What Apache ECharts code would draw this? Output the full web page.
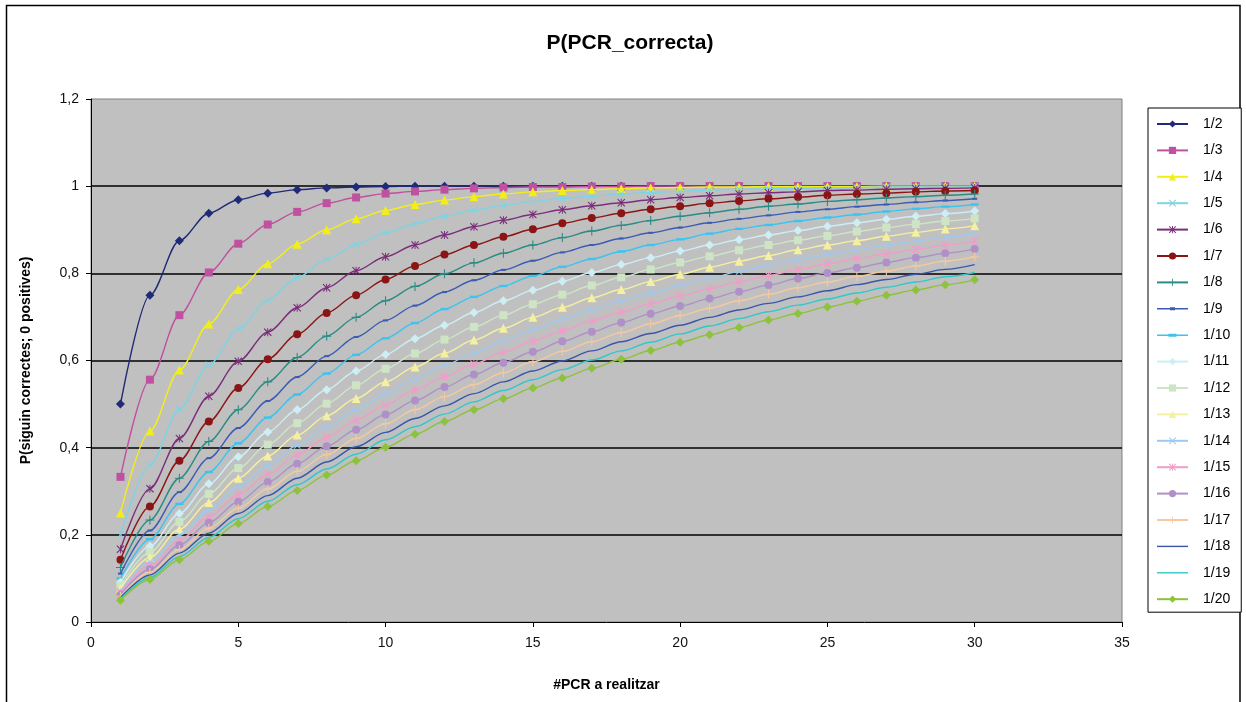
<!DOCTYPE html>
<html>
<head>
<meta charset="utf-8">
<script src="https://cdn.jsdelivr.net/npm/echarts@6/dist/echarts.min.js"></script>
<style>
html,body{margin:0;padding:0;background:#fff;}
#chart{width:1246px;height:702px;}
</style>
</head>
<body>
<div id="chart"></div>
<script>
// Number of PCRs (x values)
const nPCR = [1,2,3,4,5,6,7,8,9,10,11,12,13,14,15,16,17,18,19,20,21,22,23,24,25,26,27,28,29,30];
const seriesNames = ['1/2','1/3','1/4','1/5','1/6','1/7','1/8','1/9','1/10','1/11','1/12','1/13','1/14','1/15','1/16','1/17','1/18','1/19','1/20'];
const yTickLabels = ['0','0,2','0,4','0,6','0,8','1','1,2'];
const xTickLabels = ['0','5','10','15','20','25','30','35'];

const p2  = [0.5,0.75,0.875,0.938,0.969,0.984,0.992,0.996,0.998,0.999,1,1,1,1,1,1,1,1,1,1,1,1,1,1,1,1,1,1,1,1];
const p3  = [0.333,0.556,0.704,0.802,0.868,0.912,0.941,0.961,0.974,0.983,0.988,0.992,0.995,0.997,0.998,0.998,0.999,0.999,1,1,1,1,1,1,1,1,1,1,1,1];
const p4  = [0.25,0.438,0.578,0.684,0.763,0.822,0.867,0.900,0.925,0.944,0.958,0.968,0.976,0.982,0.987,0.990,0.992,0.994,0.996,0.997,0.998,0.998,0.999,0.999,0.999,0.999,1,1,1,1];
const p5  = [0.2,0.36,0.488,0.590,0.672,0.738,0.790,0.832,0.866,0.893,0.914,0.931,0.945,0.956,0.965,0.972,0.977,0.982,0.986,0.988,0.991,0.993,0.994,0.995,0.996,0.997,0.998,0.998,0.998,0.999];
const p6  = [0.167,0.306,0.421,0.518,0.598,0.665,0.721,0.767,0.806,0.838,0.865,0.888,0.907,0.922,0.935,0.946,0.955,0.962,0.969,0.974,0.978,0.982,0.985,0.987,0.990,0.991,0.993,0.994,0.995,0.996];
const p7  = [0.143,0.265,0.370,0.460,0.537,0.603,0.660,0.709,0.750,0.786,0.817,0.843,0.865,0.884,0.901,0.915,0.927,0.938,0.947,0.954,0.961,0.966,0.971,0.975,0.979,0.982,0.984,0.987,0.989,0.990];
const p8  = [0.125,0.234,0.330,0.414,0.487,0.551,0.607,0.656,0.699,0.737,0.770,0.799,0.824,0.846,0.865,0.882,0.897,0.910,0.921,0.931,0.939,0.947,0.954,0.959,0.965,0.969,0.973,0.976,0.979,0.982];
const p9  = [0.111,0.210,0.298,0.376,0.445,0.507,0.562,0.610,0.654,0.692,0.726,0.757,0.784,0.808,0.829,0.848,0.865,0.880,0.893,0.905,0.916,0.925,0.933,0.941,0.947,0.953,0.958,0.963,0.967,0.971];
const p10 = [0.1,0.19,0.271,0.344,0.410,0.469,0.522,0.570,0.613,0.651,0.686,0.718,0.746,0.771,0.794,0.815,0.833,0.850,0.865,0.878,0.891,0.902,0.911,0.920,0.928,0.935,0.942,0.948,0.953,0.958];
const p11 = [0.091,0.174,0.249,0.317,0.379,0.436,0.487,0.533,0.576,0.614,0.650,0.681,0.710,0.737,0.761,0.782,0.802,0.820,0.836,0.851,0.865,0.877,0.888,0.898,0.908,0.916,0.924,0.931,0.937,0.943];
const p12 = [0.083,0.160,0.230,0.294,0.353,0.407,0.456,0.501,0.543,0.581,0.616,0.648,0.677,0.704,0.729,0.751,0.772,0.791,0.809,0.825,0.839,0.853,0.865,0.876,0.886,0.896,0.905,0.913,0.920,0.926];
const p13 = [0.077,0.148,0.213,0.274,0.330,0.381,0.429,0.473,0.513,0.551,0.585,0.617,0.647,0.674,0.699,0.722,0.744,0.763,0.781,0.798,0.814,0.828,0.841,0.854,0.865,0.875,0.885,0.894,0.902,0.909];
const p14 = [0.071,0.138,0.199,0.257,0.310,0.359,0.405,0.447,0.487,0.523,0.557,0.589,0.618,0.646,0.671,0.694,0.716,0.737,0.755,0.773,0.789,0.804,0.818,0.831,0.843,0.854,0.865,0.874,0.883,0.892];
const p15 = [0.067,0.129,0.187,0.241,0.292,0.339,0.383,0.424,0.463,0.498,0.532,0.563,0.592,0.619,0.645,0.668,0.691,0.711,0.730,0.748,0.765,0.781,0.795,0.809,0.822,0.834,0.845,0.855,0.865,0.874];
const p16 = [0.0625,0.121,0.176,0.228,0.276,0.321,0.363,0.403,0.441,0.476,0.508,0.539,0.568,0.595,0.620,0.644,0.666,0.687,0.707,0.725,0.742,0.758,0.773,0.788,0.801,0.813,0.825,0.836,0.846,0.856];
const p17 = [0.059,0.114,0.166,0.215,0.261,0.305,0.346,0.384,0.421,0.455,0.487,0.517,0.545,0.572,0.597,0.621,0.643,0.664,0.684,0.703,0.720,0.737,0.752,0.767,0.780,0.793,0.805,0.817,0.828,0.838];
const p18 = [0.056,0.108,0.158,0.204,0.249,0.290,0.330,0.367,0.402,0.435,0.467,0.496,0.524,0.551,0.576,0.599,0.622,0.643,0.662,0.681,0.699,0.716,0.731,0.746,0.760,0.774,0.786,0.798,0.809,0.820];
const p19 = [0.053,0.102,0.150,0.194,0.237,0.277,0.315,0.351,0.385,0.418,0.448,0.477,0.505,0.531,0.556,0.579,0.601,0.622,0.642,0.661,0.679,0.696,0.712,0.727,0.741,0.755,0.768,0.780,0.792,0.802];
const p20 = [0.05,0.0975,0.143,0.185,0.226,0.265,0.302,0.337,0.370,0.401,0.431,0.460,0.487,0.512,0.537,0.560,0.582,0.603,0.623,0.642,0.659,0.676,0.693,0.708,0.723,0.736,0.750,0.762,0.774,0.785];

const allValues = [p2,p3,p4,p5,p6,p7,p8,p9,p10,p11,p12,p13,p14,p15,p16,p17,p18,p19,p20];

const colors = ['#1F2A78','#C050A0','#F2EE1A','#7CD4E4','#7B2D7B','#8B1515','#2A8C84','#3B5BB5','#3CC4F0','#CCEEF4','#CDE5C5','#F4F0A0','#A0C8F0','#F29CC8','#B090C8','#F4C8A0','#3A56A8','#30C8C8','#8DC23C'];

const X_PATH = 'path://M0,1 L1,0 L5,4 L9,0 L10,1 L6,5 L10,9 L9,10 L5,6 L1,10 L0,9 L4,5 Z';
const STAR_PATH = 'path://M0,1 L1,0 L5,4 L9,0 L10,1 L6,5 L10,9 L9,10 L5,6 L1,10 L0,9 L4,5 Z M4.4,0 L5.6,0 L5.6,10 L4.4,10 Z';
const PLUS_PATH = 'path://M4.4,0 L5.6,0 L5.6,4.4 L10,4.4 L10,5.6 L5.6,5.6 L5.6,10 L4.4,10 L4.4,5.6 L0,5.6 L0,4.4 L4.4,4.4 Z';
const DASH_PATH = 'path://M0,0 L10,0 L10,3 L0,3 Z';
const SDASH_PATH = 'path://M0,0 L10,0 L10,4 L0,4 Z';

// legend icons (line + marker) for series whose markers are not square-ish
const LEG_LINE = 'path://M0,0 L31,0 L31,1.4 L0,1.4 Z';
const LEG_DASH = 'path://M0,0.8 L31,0.8 L31,2.2 L0,2.2 Z M11.5,0 L19.5,0 L19.5,3 L11.5,3 Z';
const LEG_SDASH = 'path://M0,0.8 L31,0.8 L31,2.2 L0,2.2 Z M13,0 L18,0 L18,3 L13,3 Z';

const markers = [
  ['diamond', 9, null],
  ['rect', 8, null],
  ['triangle', 9, null],
  [X_PATH, 7, null],
  [STAR_PATH, 8, null],
  ['circle', 8, null],
  [PLUS_PATH, 9, null],
  [SDASH_PATH, 5, LEG_SDASH],
  [DASH_PATH, 8, LEG_DASH],
  ['diamond', 9, null],
  ['rect', 8, null],
  ['triangle', 9, null],
  [X_PATH, 7, null],
  [STAR_PATH, 8, null],
  ['circle', 8, null],
  [PLUS_PATH, 9, null],
  ['none', 0, LEG_LINE],
  ['none', 0, LEG_LINE],
  ['diamond', 9, null]
];

const series = seriesNames.map((name, i) => ({
  name: name,
  type: 'line',
  data: nPCR.map((n, j) => [n, allValues[i][j]]),
  smooth: 0.3,
  smoothMonotone: 'x',
  symbol: markers[i][0],
  symbolSize: markers[i][1] || 1,
  symbolKeepAspect: true,
  lineStyle: { color: colors[i], width: 1.4 },
  itemStyle: { color: colors[i], borderWidth: 0 },
  emphasis: { disabled: true },
  z: 2 + i * 0.01
}));

const legendData = seriesNames.map((name, i) => markers[i][2]
  ? { name: name, icon: markers[i][2], itemStyle: { color: colors[i], borderWidth: 0 } }
  : { name: name });

const chart = echarts.init(document.getElementById('chart'), null, { renderer: 'canvas' });
chart.setOption({
  animation: false,
  backgroundColor: '#ffffff',
  textStyle: { fontFamily: 'Liberation Sans, Arial, sans-serif' },
  title: {
    text: 'P(PCR_correcta)',
    left: 625, top: 28, textAlign: 'center',
    textStyle: { fontSize: 21, fontWeight: 'bold', color: '#000', fontFamily: 'Liberation Sans, Arial, sans-serif' }
  },
  graphic: [{
    type: 'rect', z: -1, silent: true,
    shape: { x: 6.5, y: 5.5, width: 1233.5, height: 720 },
    style: { fill: 'none', stroke: '#000', lineWidth: 1.5 }
  }],
  legend: {
    orient: 'vertical',
    left: 1148, top: 108,
    padding: [9, 11, 6, 8],
    itemWidth: 31, itemHeight: 9, itemGap: 12.4,
    symbolKeepAspect: true,
    backgroundColor: '#fff', borderColor: '#000', borderWidth: 1,
    textStyle: { fontSize: 14, color: '#000', padding: [0, 0, 0, 10], fontFamily: 'Liberation Sans, Arial, sans-serif' },
    data: legendData
  },
  grid: {
    left: 91, top: 99, width: 1031, height: 523,
    show: true, backgroundColor: '#C0C0C0', borderColor: '#808080', borderWidth: 1,
    containLabel: false
  },
  xAxis: {
    type: 'value', min: 0, max: 35, interval: 5,
    name: '#PCR a realitzar', nameLocation: 'middle', nameGap: 56,
    nameTextStyle: { fontSize: 14, fontWeight: 'bold', color: '#000' },
    axisLine: { show: true, onZero: false, lineStyle: { color: '#000', width: 1 } },
    axisTick: { show: true, inside: false, length: 5, lineStyle: { color: '#000' } },
    axisLabel: { fontSize: 14, color: '#111', margin: 14, formatter: (v) => xTickLabels[Math.round(v / 5)] },
    splitLine: { show: false }
  },
  yAxis: {
    type: 'value', min: 0, max: 1.2, interval: 0.2,
    name: 'P(siguin correctes; 0 positives)', nameLocation: 'middle', nameGap: 58, nameRotate: 90,
    nameTextStyle: { fontSize: 14, fontWeight: 'bold', color: '#000' },
    axisLine: { show: true, onZero: false, lineStyle: { color: '#000', width: 1 } },
    axisTick: { show: true, inside: false, length: 5, lineStyle: { color: '#000' } },
    axisLabel: { fontSize: 14, color: '#111', margin: 12, formatter: (v) => yTickLabels[Math.round(v / 0.2)] },
    splitLine: { show: true, showMinLine: false, showMaxLine: false, lineStyle: { color: '#000', width: 1.5 } }
  },
  series: series
});
</script>
</body>
</html>
